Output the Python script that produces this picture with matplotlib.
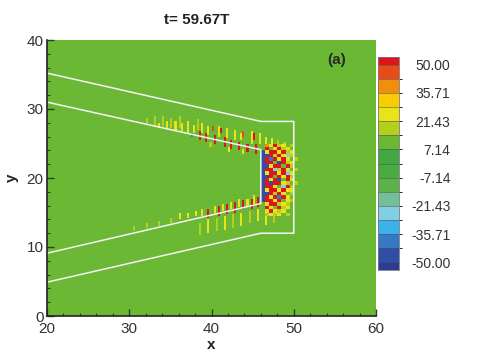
import numpy as np
import matplotlib
matplotlib.use("Agg")
import matplotlib.pyplot as plt
from matplotlib.colors import ListedColormap, BoundaryNorm

plt.rcParams['font.family'] = ['Liberation Sans', 'DejaVu Sans']

# ---------------- data ----------------
title = "t= 59.67T"
panel = "(a)"
x_range = [20, 60]
y_range = [0, 40]
x_ticks = [20, 30, 40, 50, 60]
y_ticks = [0, 10, 20, 30, 40]
levels = np.linspace(-50, 50, 15)
cbar_ticks = [-50.00, -35.71, -21.43, -7.14, 7.14, 21.43, 35.71, 50.00]
band_colors = ['#2f4fa6', '#3478c6', '#3cb2ea', '#80cfe2', '#72c09a', '#5cb24a',
               '#48ac40', '#42a842', '#6ab834', '#b4d01c', '#e8e418', '#f8cc00',
               '#f08e10', '#e84a18']
under_color = '#2c3a92'
over_color = '#e0141c'
background_value = 10.0

# nozzle walls (x, y)
outer_x = [20, 46, 50, 50, 46, 20]
outer_y = [35.2, 28.2, 28.2, 12.0, 12.0, 4.9]
inner_x = [20, 46, 46, 20]
inner_y = [31.0, 24.1, 16.3, 9.1]

# streaks (x, y_bottom, y_top, value)
top_streaks = [
    (38.5, 25.6, 26.8, 50), (39.2, 25.2, 26.6, 50), (40.3, 24.9, 26.3, 50),
    (41.4, 24.5, 25.9, 50), (42.2, 24.3, 25.6, 50), (43.2, 24.0, 25.3, 50),
    (44.3, 23.8, 25.1, 50), (45.3, 23.6, 24.9, 50),
    (40.0, 26.8, 27.6, 45), (41.0, 26.5, 27.2, 50), (43.7, 26.0, 26.8, 45),
    (45.0, 25.6, 26.5, 50),
    (33.5, 27.3, 28.0, 25), (34.5, 27.2, 28.2, 25), (35.5, 26.9, 28.3, 27),
    (36.3, 26.8, 28.0, 25), (37.0, 26.6, 28.2, 28), (37.8, 26.4, 27.8, 25),
    (38.8, 26.6, 28.0, 28), (39.6, 26.3, 27.6, 25), (40.7, 26.0, 27.4, 28),
    (41.8, 25.8, 27.2, 25), (42.7, 25.6, 27.0, 28), (43.6, 25.4, 26.4, 25),
    (44.7, 25.1, 26.7, 28), (45.7, 24.9, 26.4, 25), (46.5, 24.8, 26.0, 25),
    (47.2, 24.5, 25.8, 25), (48.0, 24.3, 25.5, 17), (48.7, 24.5, 25.3, 17),
    (32.0, 27.8, 28.8, 17), (33.0, 27.6, 28.9, 17), (34.0, 27.5, 29.0, 17),
    (35.0, 27.3, 28.8, 17), (36.0, 27.2, 28.9, 17), (38.2, 27.0, 28.6, 17),
    (41.9, 23.8, 24.6, 25), (43.8, 23.4, 24.2, 25), (39.8, 24.6, 25.2, 17),
    (37.5, 26.0, 26.5, -40), (40.0, 25.4, 25.8, -40), (42.8, 24.7, 25.1, -30),
]
bottom_streaks = [
    (39.6, 14.3, 15.6, 50), (40.8, 14.6, 16.0, 50), (41.8, 14.8, 16.2, 50),
    (42.7, 15.1, 16.4, 50), (43.8, 15.4, 16.8, 50), (44.7, 15.6, 17.0, 50),
    (45.5, 15.8, 17.2, 50),
    (36.0, 14.0, 14.9, 25), (37.0, 14.2, 15.1, 25), (38.0, 14.4, 15.3, 28),
    (38.7, 14.6, 15.6, 25), (40.2, 15.0, 16.0, 28), (41.3, 15.2, 16.3, 25),
    (42.3, 15.5, 16.6, 28), (43.3, 15.8, 16.9, 25), (44.2, 16.0, 17.1, 28),
    (45.1, 16.2, 17.4, 25),
    (30.5, 12.3, 13.0, 17), (32.0, 12.7, 13.4, 17), (33.5, 13.1, 13.8, 17),
    (35.0, 13.5, 14.2, 17),
    (38.5, 11.8, 13.6, 17), (39.5, 12.0, 13.9, 25), (40.5, 12.3, 14.2, 17),
    (41.5, 12.6, 14.5, 25), (42.5, 12.8, 14.7, 17), (43.5, 13.1, 15.0, 25),
    (44.5, 13.4, 15.2, 17), (45.5, 13.7, 15.5, 25), (46.5, 13.2, 14.5, 25),
    (47.5, 13.5, 14.5, 17),
    (37.8, 13.9, 14.3, -40), (41.5, 14.9, 15.2, -40), (44.0, 15.6, 16.0, -35),
]
base_strip = (46.0, 16.5, 24.0, -50)

# wake cells: left edges in x, bottom edges in y (top row first)
wake_x = [46.5, 47.0, 47.5, 48.0, 48.5, 49.0, 49.5, 50.0]
wake_y = [24.5, 24.0, 23.5, 23.0, 22.5, 22.0, 21.5, 21.0, 20.5, 20.0, 19.5,
          19.0, 18.5, 18.0, 17.5, 17.0, 16.5, 16.0, 15.5, 15.0, 14.5]
wake_values = [
    [40, 25, 50, 17, 25, 10, 17, 10],
    [50, 10, 25, 50, 17, 25, 10, 10],
    [25, 50, 50, 25, 50, 17, 25, 10],
    [-50, 50, 17, 50, 25, -25, 17, 10],
    [50, -38, 50, 25, 50, 25, 10, 17],
    [50, 50, 10, -50, 50, 17, 25, 10],
    [-50, 25, 50, 50, 10, 50, 17, 10],
    [50, 50, -25, 17, 50, 25, 10, 17],
    [25, 50, 50, 25, 50, -25, 25, 10],
    [-50, 50, 10, 50, 25, 50, 17, 10],
    [50, 25, 50, -50, 10, 50, 25, 10],
    [50, -50, 50, 50, 25, 17, 10, 17],
    [50, 50, 25, 10, -25, 50, 17, 10],
    [25, 50, 50, 25, 50, 25, 25, 10],
    [-50, 50, 17, 50, 25, 10, 17, 10],
    [50, 25, 50, -38, 50, 25, 10, 10],
    [50, 50, 25, 50, 10, 25, 17, 10],
    [25, 50, 50, 17, 25, 17, 10, 10],
    [50, 25, 10, 50, 17, 25, 10, 10],
    [25, 50, 25, 17, 25, 10, 10, 10],
    [17, 25, 17, 25, 10, 17, 10, 10],
]

# ---------------- field ----------------
d = 0.25
xe = np.arange(x_range[0], x_range[1] + d / 2, d)
ye = np.arange(y_range[0], y_range[1] + d / 2, d)
field = np.full((len(ye) - 1, len(xe) - 1), background_value)


def paint(x0, x1, y0, y1, v):
    i0 = int(round((x0 - x_range[0]) / d))
    i1 = max(i0 + 1, int(round((x1 - x_range[0]) / d)))
    j0 = int(round((y0 - y_range[0]) / d))
    j1 = max(j0 + 1, int(round((y1 - y_range[0]) / d)))
    field[j0:j1, i0:i1] = v


for (sx, sy0, sy1, v) in top_streaks + bottom_streaks:
    paint(sx, sx + d, sy0, sy1, v)
for j, wy in enumerate(wake_y):
    for i, wx in enumerate(wake_x):
        paint(wx, wx + 0.5, wy, wy + 0.5, wake_values[j][i])
paint(base_strip[0], base_strip[0] + 0.5, base_strip[1], base_strip[2], base_strip[3])

cmap = ListedColormap(band_colors)
cmap.set_under(under_color)
cmap.set_over(over_color)
norm = BoundaryNorm(levels, cmap.N)

# ---------------- figure ----------------
fig = plt.figure(figsize=(4.81, 3.58), dpi=100)
ax = fig.add_axes([47 / 481, 42 / 358, 329 / 481, 276 / 358])
mesh = ax.pcolormesh(xe, ye, field, cmap=cmap, norm=norm, shading='flat')
ax.plot(outer_x, outer_y, color='#f4f4f4', lw=1.1)
ax.plot(inner_x, inner_y, color='#f4f4f4', lw=1.1)

ax.set_xlim(x_range)
ax.set_ylim(y_range)
ax.set_xticks(x_ticks)
ax.set_yticks(y_ticks)
ax.set_xticks(np.arange(20, 61, 2), minor=True)
ax.set_yticks(np.arange(0, 41, 2), minor=True)
ax.tick_params(which='both', direction='in', color='#1e4a1e', labelsize=11,
               labelcolor='#333333')
ax.tick_params(which='major', length=5, width=1.0)
ax.tick_params(which='minor', length=2.5, width=0.8)
ax.tick_params(axis='y', pad=2.5)
ax.tick_params(axis='x', pad=4)
for s in ['top', 'right']:
    ax.spines[s].set_visible(False)
for s in ['left', 'bottom']:
    ax.spines[s].set_linewidth(1.2)
    ax.spines[s].set_color('#222222')

fig.text(211 / 481, 1 - 345 / 358, 'x', fontsize=11, fontweight='bold',
         ha='center', va='center', color='#222222')
fig.text(12 / 481, 1 - 178 / 358, 'y', fontsize=11, fontweight='bold',
         ha='center', va='center', rotation=90, color='#222222')
fig.text(197 / 481, 1 - 20 / 358, title, fontsize=11, fontweight='bold',
         ha='center', va='center', color='#222222')
ax.text(337 / 481, 1 - 60 / 358, panel, transform=fig.transFigure, fontsize=11,
        fontweight='bold', ha='center', va='center', color='#2a2a2a')

cax = fig.add_axes([378 / 481, 88 / 358, 21 / 481, 213 / 358])
cb = fig.colorbar(mesh, cax=cax, extend='both', extendrect=True,
                  extendfrac=0.038, drawedges=True, ticks=cbar_ticks)
cb.outline.set_linewidth(0.6)
cb.outline.set_edgecolor('#777777')
cb.dividers.set_color('#555555')
cb.dividers.set_linewidth(0.4)
cb.ax.tick_params(length=0, pad=37, labelsize=10, labelcolor='#333333')
cb.ax.set_yticklabels(['%.2f' % t for t in cbar_ticks])
for lab in cb.ax.get_yticklabels():
    lab.set_ha('right')

fig.savefig('out.png', dpi=100)
